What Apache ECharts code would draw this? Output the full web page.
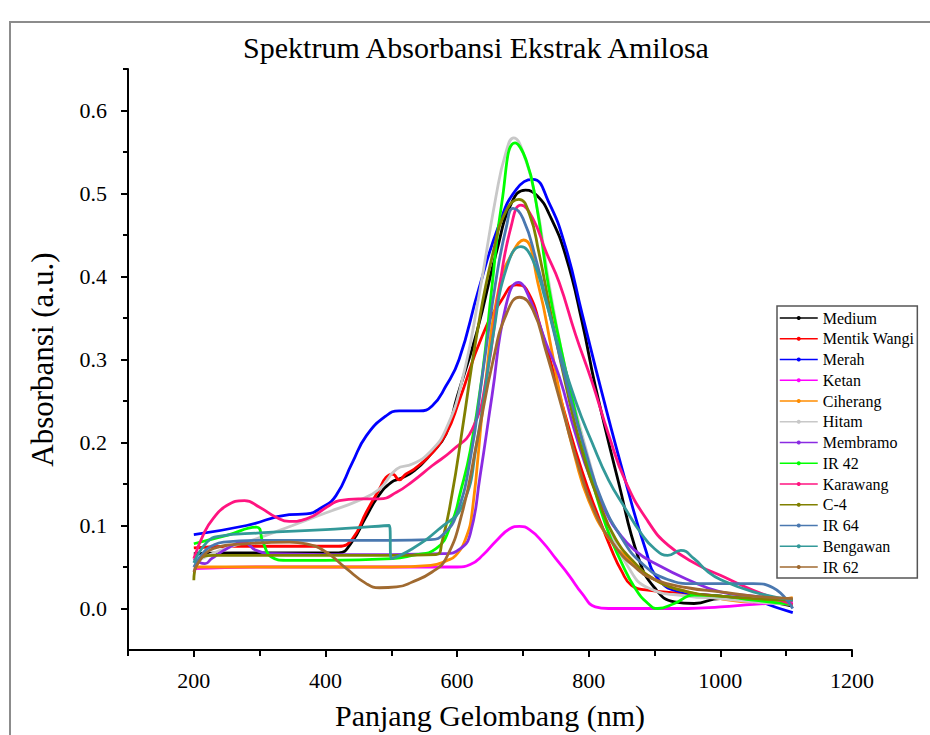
<!DOCTYPE html>
<html>
<head>
<meta charset="utf-8">
<script src="https://cdn.jsdelivr.net/npm/echarts@6/dist/echarts.min.js"></script>
<style>
  html, body { margin: 0; padding: 0; background: #fff; }
  #chart { width: 930px; height: 735px; }
</style>
</head>
<body>
<div id="chart"></div>
<script>
// Absorbance spectra of amylose extracts: [wavelength nm, absorbance a.u.]
const medium = [[200,0.066],[260,0.067],[330,0.067],[420,0.067],[440,0.08],[460,0.108],[480,0.135],[500,0.152],[515,0.157],[535,0.166],[560,0.186],[583,0.21],[600,0.255],[630,0.333],[660,0.43],[683,0.489],[704,0.504],[722,0.497],[740,0.475],[765,0.425],[790,0.345],[810,0.268],[845,0.153],[876,0.06],[900,0.025],[930,0.008],[960,0.006],[1000,0.012],[1050,0.01],[1110,0.003]];
const mentikWangi = [[200,0.073],[260,0.075],[330,0.075],[420,0.075],[441,0.084],[462,0.116],[482,0.144],[492,0.158],[502,0.162],[512,0.155],[522,0.162],[535,0.168],[558,0.184],[583,0.21],[603,0.25],[638,0.328],[668,0.372],[690,0.39],[705,0.385],[730,0.33],[760,0.245],[790,0.165],[815,0.11],[835,0.07],[850,0.045],[865,0.028],[890,0.022],[950,0.018],[1000,0.015],[1050,0.01],[1110,0.005]];
const merah = [[200,0.089],[280,0.1],[345,0.113],[371,0.114],[395,0.122],[416,0.136],[441,0.176],[462,0.208],[492,0.232],[512,0.238],[542,0.238],[562,0.244],[583,0.268],[603,0.3],[633,0.385],[664,0.463],[690,0.505],[715,0.517],[739,0.49],[765,0.435],[790,0.355],[820,0.26],[856,0.153],[886,0.072],[906,0.035],[940,0.02],[1000,0.015],[1050,0.01],[1090,0.0],[1110,-0.005]];
const ketan = [[200,0.048],[300,0.05],[400,0.05],[500,0.05],[600,0.05],[620,0.053],[640,0.065],[660,0.082],[680,0.096],[695,0.099],[710,0.095],[730,0.08],[750,0.06],[770,0.04],[790,0.018],[810,0.002],[830,0],[900,0],[950,0],[1000,0.002],[1050,0.005],[1110,0.008]];
const ciherang = [[200,0.05],[300,0.05],[400,0.05],[500,0.05],[560,0.052],[585,0.058],[598,0.064],[613,0.084],[623,0.117],[641,0.256],[664,0.388],[685,0.43],[701,0.444],[724,0.388],[744,0.31],[757,0.256],[780,0.18],[800,0.13],[830,0.085],[860,0.06],[900,0.035],[950,0.02],[1000,0.012],[1050,0.008],[1110,0.013]];
const hitam = [[200,0.055],[240,0.07],[295,0.084],[350,0.1],[400,0.115],[450,0.13],[482,0.144],[508,0.168],[532,0.174],[558,0.188],[583,0.216],[608,0.276],[633,0.376],[659,0.496],[674,0.549],[686,0.567],[700,0.55],[720,0.49],[740,0.39],[760,0.305],[775,0.255],[800,0.18],[830,0.1],[860,0.05],[890,0.025],[950,0.015],[1000,0.012],[1050,0.008],[1110,0.005]];
const membramo = [[200,0.06],[217,0.054],[227,0.06],[250,0.072],[275,0.08],[295,0.07],[320,0.066],[400,0.065],[500,0.065],[580,0.066],[605,0.072],[620,0.09],[635,0.16],[653,0.256],[674,0.364],[693,0.393],[712,0.37],[735,0.32],[755,0.28],[780,0.21],[805,0.152],[830,0.11],[841,0.096],[870,0.07],[906,0.052],[950,0.035],[1000,0.02],[1050,0.015],[1110,0.01]];
const ir42 = [[200,0.078],[250,0.088],[295,0.098],[305,0.08],[318,0.062],[340,0.058],[400,0.058],[502,0.06],[532,0.064],[568,0.072],[592,0.104],[605,0.14],[620,0.19],[638,0.28],[653,0.388],[668,0.489],[688,0.561],[705,0.54],[720,0.489],[739,0.388],[759,0.309],[774,0.256],[800,0.17],[826,0.1],[850,0.055],[870,0.025],[890,0.006],[905,0.0],[930,0.006],[960,0.016],[1000,0.015],[1050,0.01],[1110,0.005]];
const karawang = [[200,0.06],[215,0.09],[229,0.108],[250,0.124],[277,0.13],[300,0.122],[325,0.11],[345,0.105],[371,0.108],[406,0.124],[421,0.13],[450,0.132],[482,0.132],[508,0.14],[532,0.153],[562,0.172],[592,0.19],[623,0.216],[645,0.28],[665,0.39],[682,0.46],[697,0.486],[715,0.47],[735,0.43],[755,0.393],[780,0.33],[805,0.273],[830,0.21],[856,0.153],[890,0.105],[921,0.076],[967,0.052],[1000,0.04],[1050,0.022],[1110,0.005]];
const c4 = [[200,0.034],[209,0.06],[230,0.064],[300,0.064],[400,0.064],[500,0.064],[568,0.065],[577,0.08],[592,0.136],[608,0.216],[630,0.33],[655,0.43],[675,0.48],[694,0.493],[710,0.475],[724,0.43],[744,0.349],[765,0.27],[790,0.19],[815,0.13],[840,0.085],[870,0.055],[900,0.035],[950,0.02],[1000,0.015],[1050,0.012],[1110,0.01]];
const ir64 = [[200,0.05],[215,0.068],[229,0.076],[245,0.08],[300,0.082],[400,0.082],[500,0.082],[560,0.083],[580,0.09],[600,0.115],[620,0.18],[640,0.29],[660,0.4],[675,0.46],[685,0.482],[700,0.47],[720,0.42],[745,0.34],[770,0.26],[795,0.19],[820,0.13],[850,0.085],[880,0.055],[920,0.035],[960,0.03],[1000,0.03],[1050,0.03],[1080,0.025],[1110,0.0]];
const bengawan = [[200,0.055],[220,0.08],[238,0.087],[300,0.091],[400,0.095],[497,0.1],[500,0.06],[532,0.072],[573,0.096],[608,0.124],[630,0.2],[655,0.33],[675,0.41],[697,0.436],[715,0.42],[735,0.37],[755,0.313],[780,0.25],[805,0.2],[830,0.155],[856,0.12],[880,0.09],[900,0.072],[920,0.064],[940,0.07],[960,0.06],[980,0.045],[1000,0.035],[1050,0.02],[1110,0.01]];
const ir62 = [[200,0.044],[229,0.072],[280,0.078],[345,0.08],[371,0.078],[401,0.068],[432,0.048],[462,0.03],[482,0.025],[508,0.026],[532,0.032],[562,0.044],[583,0.06],[608,0.116],[630,0.2],[655,0.3],[675,0.355],[695,0.375],[715,0.36],[735,0.31],[760,0.24],[785,0.17],[810,0.115],[840,0.075],[870,0.05],[900,0.035],[950,0.025],[1000,0.02],[1050,0.015],[1110,0.012]];

const seriesNames = ['Medium','Mentik Wangi','Merah','Ketan','Ciherang','Hitam','Membramo','IR 42','Karawang','C-4','IR 64','Bengawan','IR 62'];
const seriesData = [medium, mentikWangi, merah, ketan, ciherang, hitam, membramo, ir42, karawang, c4, ir64, bengawan, ir62];
const seriesColors = ['#000000','#ff0000','#0000ff','#ff00ff','#ff8c00','#c8c8c8','#8a2be2','#00ff00','#ff1480','#808000','#4a78b0','#339999','#a06a30'];

// axis ticks
const xMajorTicks = [200, 400, 600, 800, 1000, 1200];
const xMinorTicks = [100, 300, 500, 700, 900, 1100];
const yMajorTicks = [0, 0.1, 0.2, 0.3, 0.4, 0.5, 0.6];
const yMinorTicks = [0.05, 0.15, 0.25, 0.35, 0.45, 0.55, 0.65];

const serif = 'Liberation Serif';
const chart = echarts.init(document.getElementById('chart'), null, { renderer: 'svg' });

const axisLineStyle = { color: '#000', width: 2 };

chart.setOption({
  animation: false,
  backgroundColor: '#fff',
  grid: { left: 128, right: 78, top: 69, bottom: 81, containLabel: false },
  graphic: [
    { type: 'polyline', silent: true, shape: { points: [[10, 735], [10, 22], [930, 22]] },
      style: { stroke: '#8c8c8c', lineWidth: 2, fill: null } },
    { type: 'text', x: 476, y: 47, silent: true,
      style: { text: 'Spektrum Absorbansi Ekstrak Amilosa', fontFamily: serif, fontSize: 30, fill: '#000',
               align: 'center', verticalAlign: 'middle' } }
  ],
  legend: {
    orient: 'vertical', left: 777, top: 306,
    data: seriesNames,
    itemWidth: 38, itemHeight: 5, itemGap: 4.75,
    padding: [4, 3, 3, 2],
    borderColor: '#555', borderWidth: 1.5,
    lineStyle: { width: 1.5 },
    textStyle: { fontFamily: serif, fontSize: 16, color: '#000' }
  },
  xAxis: [
    {
      type: 'value', min: 100, max: 1200, position: 'bottom',
      name: 'Panjang Gelombang (nm)', nameLocation: 'middle', nameGap: 50,
      nameTextStyle: { fontFamily: serif, fontSize: 30, color: '#000' },
      axisLine: { show: true, onZero: false, lineStyle: axisLineStyle },
      axisTick: { show: true, customValues: xMajorTicks, length: 7, lineStyle: axisLineStyle },
      axisLabel: { customValues: xMajorTicks, fontFamily: serif, fontSize: 22, color: '#000', margin: 19,
                   formatter: v => String(v) },
      splitLine: { show: false }
    },
    {
      type: 'value', min: 100, max: 1200, position: 'bottom',
      axisLine: { show: false, onZero: false },
      axisTick: { show: true, customValues: xMinorTicks, length: 6, lineStyle: axisLineStyle },
      axisLabel: { show: false },
      splitLine: { show: false }
    }
  ],
  yAxis: [
    {
      type: 'value', min: -0.05, max: 0.65, position: 'left',
      name: 'Absorbansi (a.u.)', nameLocation: 'middle', nameGap: 70,
      nameTextStyle: { fontFamily: serif, fontSize: 31, color: '#000' },
      axisLine: { show: true, onZero: false, lineStyle: axisLineStyle },
      axisTick: { show: true, customValues: yMajorTicks, length: 7, lineStyle: axisLineStyle },
      axisLabel: { customValues: yMajorTicks, fontFamily: serif, fontSize: 22, color: '#000', margin: 21,
                   formatter: v => v.toFixed(1) },
      splitLine: { show: false }
    },
    {
      type: 'value', min: -0.05, max: 0.65, position: 'left',
      axisLine: { show: false, onZero: false },
      axisTick: { show: true, customValues: yMinorTicks, length: 5, lineStyle: axisLineStyle },
      axisLabel: { show: false },
      splitLine: { show: false }
    }
  ],
  series: seriesNames.map((name, i) => ({
    name,
    type: 'line',
    xAxisIndex: 0,
    yAxisIndex: 0,
    data: seriesData[i],
    smooth: 0.5,
    showSymbol: false,
    symbol: 'circle',
    symbolSize: 4,
    color: seriesColors[i],
    lineStyle: { width: 2.8, color: seriesColors[i] },
    emphasis: { disabled: true }
  }))
});
</script>
</body>
</html>
